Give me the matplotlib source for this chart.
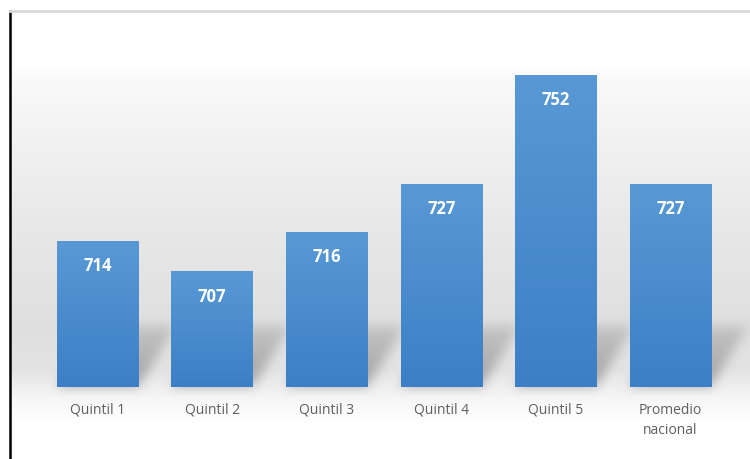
import numpy as np
import matplotlib
matplotlib.use('Agg')
import matplotlib.pyplot as plt
from matplotlib.colors import LinearSegmentedColormap

categories = ['Quintil 1', 'Quintil 2', 'Quintil 3', 'Quintil 4', 'Quintil 5', 'Promedio\nnacional']
scores = [714, 707, 716, 727, 752, 727]
BASE = 680.5

XL = (-0.763, 5.693)
YL = (664, 766.7)
W = 0.71

fig = plt.figure(figsize=(7.5, 4.59), dpi=100)
ax = fig.add_axes([10 / 750, 0, 740 / 750, 448 / 459])
x = np.arange(len(categories))


def box_blur(a, r):
    # separable box blur, two passes
    for _ in range(2):
        for axis in (0, 1):
            p = np.pad(a, [(r, r) if i == axis else (0, 0) for i in range(2)], mode='edge')
            c = np.cumsum(p, axis=axis)
            c = np.insert(c, 0, 0, axis=axis)
            n = a.shape[axis]
            a = (np.take(c, np.arange(2 * r + 1, 2 * r + 1 + n), axis=axis)
                 - np.take(c, np.arange(0, n), axis=axis)) / (2 * r + 1)
    return a


# background: grey band darker toward the floor, plus soft cast shadows
nx, ny = 740, 448
X, Y = np.meshgrid(np.linspace(*XL, nx), np.linspace(*YL, ny))
frac = (Y - YL[0]) / (YL[1] - YL[0])
bg = np.interp(frac, [0.0, 0.08, 0.13, 0.2, 0.3, 0.55, 0.75, 0.85, 0.875, 1.0],
               [1.0, 1.0, 0.97, 0.89, 0.875, 0.915, 0.955, 0.98, 1.0, 1.0])
shade = np.zeros_like(bg)
dx, dy = 0.33, 14.0
for xi, v in zip(x, scores):
    t = (Y - BASE) / dy
    xl = xi - W / 2 + dx * t
    m = (t >= 0) & (t <= 1) & (X >= xl) & (X <= xl + W)
    shade += m * (0.26 * (1 - 0.6 * t))
shade = box_blur(shade, 6)
bg = np.clip(bg - shade, 0, 1)
ax.imshow(np.dstack([bg, bg, bg]), extent=[*XL, *YL], aspect='auto', origin='lower',
          zorder=0, interpolation='bilinear')

# bars with a slight vertical gradient
cmap = LinearSegmentedColormap.from_list('bar', ['#3c7fc5', '#5899d5'])
grad = np.linspace(0, 1, 256)[:, None]
bars = ax.bar(x, np.array(scores) - BASE, bottom=BASE, width=W, color='none', zorder=2)
for b in bars:
    x0, y0 = b.get_x(), b.get_y()
    im = ax.imshow(grad, extent=[x0, x0 + b.get_width(), y0, y0 + b.get_height()],
                   origin='lower', aspect='auto', cmap=cmap, zorder=2)
    im.set_clip_path(b)
ax.set_xlim(*XL)
ax.set_ylim(*YL)

for xi, v in zip(x, scores):
    ax.text(xi, v - 5.8, str(v), ha='center', va='center', color='white',
            fontsize=12, fontweight='bold', family='Open Sans', zorder=3)
    ax.text(xi, BASE - 3.6, categories[xi], ha='center', va='top', color='#5f5f5f',
            fontsize=10, family='Open Sans', linespacing=1.45, zorder=3)

ax.set_xticks([])
ax.set_yticks([])
for s in ['right', 'bottom']:
    ax.spines[s].set_visible(False)
ax.spines['left'].set_color('black')
ax.spines['left'].set_linewidth(1.8)
ax.spines['top'].set_color('#d9d9d9')
ax.spines['top'].set_linewidth(2)

fig.savefig('out.png', dpi=100)
